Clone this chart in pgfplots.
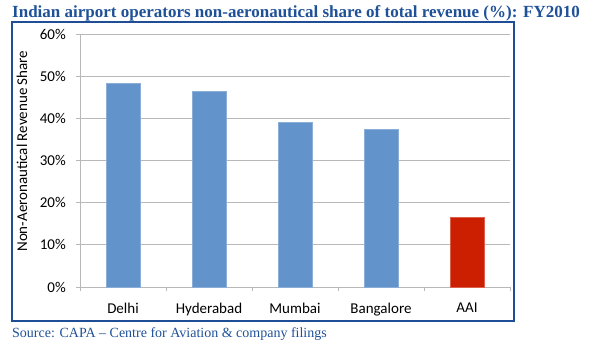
\documentclass[border=0pt]{standalone}
\usepackage{pgfplots}
\pgfplotsset{compat=1.18}
\usepackage{fontspec}
\setmainfont{Carlito}
\newfontfamily\titlefont{Liberation Serif}
\definecolor{barblue}{HTML}{6393CB}
\definecolor{barred}{HTML}{CC1E00}
\definecolor{titleblue}{HTML}{1F5199}
\definecolor{framecol}{HTML}{1F4E96}
\definecolor{gridgray}{HTML}{B8B8B8}
\begin{document}
\begin{tikzpicture}
\path (0,0) rectangle (593bp,-353bp);
\draw[framecol, line width=1.2bp] (12bp,-22bp) rectangle (514bp,-321bp);
\node[anchor=base west, inner sep=0pt, text=titleblue] at (12bp,-17.5bp)
  {\titlefont\bfseries\fontsize{17bp}{19bp}\selectfont Indian airport operators non-aeronautical share of total revenue (\%): FY2010};
\node[anchor=base west, inner sep=0pt, text=titleblue] at (12bp,-337bp)
  {\titlefont\fontsize{14bp}{16bp}\selectfont Source: CAPA – Centre for Aviation \& company filings};
\begin{axis}[
  at={(80bp,-287bp)}, anchor=south west,
  scale only axis, width=430bp, height=253bp,
  xmin=-0.5, xmax=4.5, ymin=0, ymax=60,
  xtick={0,1,2,3,4},
  xticklabels={Delhi,Hyderabad,Mumbai,Bangalore,AAI},
  minor xtick={-0.5,0.5,1.5,2.5,3.5,4.5},
  ytick={0,10,20,30,40,50,60},
  yticklabel={\pgfmathprintnumber{\tick}\%},
  /pgf/number format/assume math mode=true,
  ymajorgrids, grid style={gridgray, line width=1bp},
  axis x line*=bottom, axis y line*=left,
  axis line style={gridgray, line width=1bp},
  tick align=outside,
  major tick length=4bp, minor tick length=4bp,
  tick style={gridgray, line width=1bp},
  major x tick style={draw=none},
  tick label style={font=\fontsize{15bp}{17bp}\selectfont, inner sep=0pt},
  yticklabel style={anchor=east, xshift=-10bp},
  xticklabel style={anchor=north, yshift=-12bp},
  ylabel={Non-Aeronautical Revenue Share},
  every axis y label/.style={at={(axis description cs:-0.135,0.537)}, rotate=90, anchor=center, font=\fontsize{15bp}{17bp}\selectfont},
  clip=false,
]
\addplot[ybar, bar width=34bp, bar shift=0pt, fill=barblue, draw=barblue!75!white] coordinates {(0,48.3) (1,46.4) (2,39.1) (3,37.4)};
\addplot[ybar, bar width=34bp, bar shift=0pt, fill=barred, draw=barred!70!white] coordinates {(4,16.6)};
\end{axis}
\end{tikzpicture}
\end{document}
